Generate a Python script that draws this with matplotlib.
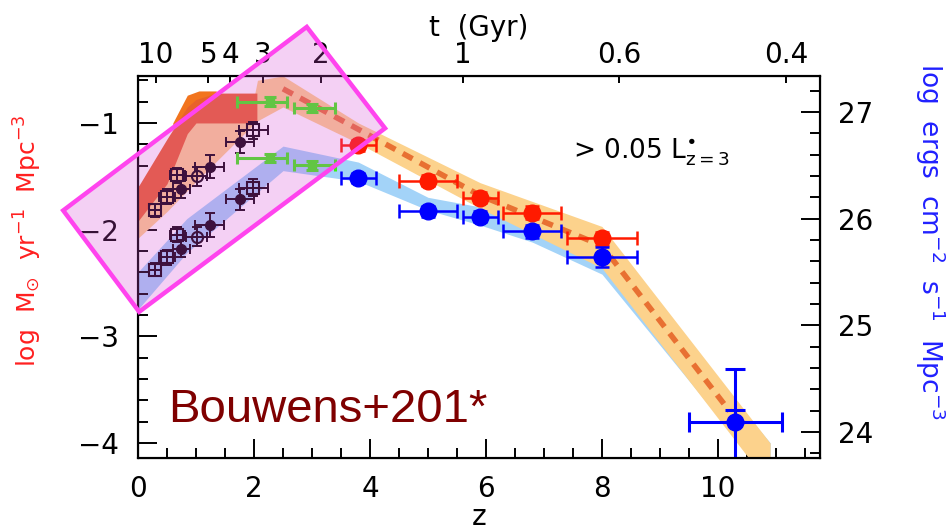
# Cosmic SFR / UV luminosity density vs redshift (Bouwens-style figure)
# with the low-z block highlighted by a rotated pink box.

import matplotlib

matplotlib.use("Agg")
import matplotlib.pyplot as plt
import numpy as np
from matplotlib.patches import Polygon
from matplotlib.ticker import MultipleLocator

plt.rcParams["font.family"] = ["DejaVu Sans"]
plt.rcParams["mathtext.fontset"] = "dejavusans"

# %% data -------------------------------------------------------------------
# left axis: log SFR density (Msun/yr/Mpc^3); right axis: log UV lum. density
LUM_OFFSET = 27.897  # log L_UV = log SFR + offset
SFR_LIM = (-4.14, -0.56)
Z_LIM = (0.0, 11.76)

# cosmology for the top (age) axis
H0 = 70.0
OMEGA_M = 0.3
OMEGA_L = 0.7
t_ticks = [10, 5, 4, 3, 2, 1, 0.6, 0.4]
t_labels = ["10", "5", "4", "3", "2", "1", "0.6", "0.4"]

# dust-corrected SFR band (light orange)
sfr_band_z = [0.0, 0.5, 1.0, 1.5, 2.0, 2.06, 2.5, 3.8, 5.9, 8.0, 10.9]
sfr_band_hi = [-1.60, -1.25, -0.95, -0.85, -0.76, -0.60, -0.56, -1.00, -1.56, -1.97, -4.00]
sfr_band_lo = [-2.08, -1.83, -1.55, -1.28, -1.01, -0.98, -0.85, -1.19, -1.80, -2.36, -4.40]

# central dashed SFR line
sfr_line_z = [2.5, 3.8, 5.9, 8.0, 10.2]
sfr_line = [-0.68, -1.06, -1.68, -2.15, -3.70]

# low-z SFR compilation band (red) + small orange bump on its top
red_band_z = [0.0, 0.5, 0.85, 1.0, 1.35, 2.05]
red_band_hi = [-1.60, -1.15, -0.85, -0.78, -0.72, -0.72]
red_band_lo = [-1.92, -1.57, -1.10, -1.00, -1.00, -1.00]
bump_z = [0.6, 0.85, 1.05, 1.35]
bump_hi = [-1.00, -0.74, -0.70, -0.70]
bump_lo = [-1.05, -0.90, -0.80, -0.74]

# uncorrected UV luminosity density band (light blue), right-axis units
uv_band_z = [0.0, 0.84, 2.5, 3.8, 5.0, 5.9, 6.8, 8.0, 10.9]
uv_band_hi = [25.50, 26.00, 26.68, 26.53, 26.20, 26.11, 25.98, 25.80, 23.90]
uv_band_lo = [25.15, 25.68, 26.45, 26.35, 26.08, 25.94, 25.78, 25.48, 23.55]

# z >= 3.8 dropout samples
hz_z = [3.8, 5.0, 5.9, 6.8, 8.0]
hz_zerr = [0.3, 0.5, 0.3, 0.5, 0.6]
hz_sfr = [-1.21, -1.54, -1.70, -1.84, -2.08]
hz_sfr_err = [0.05, 0.05, 0.05, 0.06, 0.06]
hz_uv = [26.38, 26.07, 26.02, 25.88, 25.64]
hz_uv_err = [0.05, 0.05, 0.05, 0.06, 0.09]

# z ~ 10 candidate
z10_z = [10.3]
z10_zerr = [0.8]
z10_uv = [24.09]
z10_uv_lo = [0.7]
z10_uv_hi = [0.5]
z10_cap = [0.12]

# z ~ 2-3 samples (green)
g_z = [2.28, 3.0]
g_zerr_lo = [0.57, 0.31]
g_zerr_hi = [0.29, 0.40]
g_sfr = [-0.80, -0.86]
g_uv = [26.57, 26.50]
g_err = [0.04, 0.04]

# low-z compilation (black); upper = SFR, lower = UV
lz_z = [0.29, 0.50, 0.68, 0.75, 1.01, 1.24, 1.76, 1.99]
lz_zerr = [0.10, 0.13, 0.13, 0.15, 0.18, 0.25, 0.24, 0.25]
lz_sfr = [-1.82, -1.69, -1.49, -1.62, -1.50, -1.41, -1.18, -1.07]
lz_uv = [25.52, 25.64, 25.85, 25.72, 25.83, 25.94, 26.18, 26.29]
lz_err = [0.06, 0.07, 0.07, 0.08, 0.09, 0.11, 0.10, 0.08]
lz_kind = ["sq", "sq", "sq", "dot", "circ", "dot", "dot", "sq"]

# highlight box corners (z, log SFR)
box_xy = [(2.91, -0.10), (4.26, -1.05), (0.02, -2.77), (-1.29, -1.82)]


def z_of_t(t_gyr):
    t = np.asarray(t_gyr, dtype=float)
    a = 2.0 / (3.0 * np.sqrt(OMEGA_L)) * (977.8 / H0)
    x = np.sinh(t / a) / np.sqrt(OMEGA_L / OMEGA_M)
    return x ** (-2.0 / 3.0) - 1.0


# %% figure -----------------------------------------------------------------
fig = plt.figure(figsize=(9.51, 5.31), dpi=100)
ax = fig.add_axes([138 / 951, 1 - 458 / 531, (820 - 138) / 951, (458 - 76) / 531])
ax.set_autoscale_on(False)
ax.set_xlim(*Z_LIM)
ax.set_ylim(*SFR_LIM)

ax2 = ax.twinx()
ax2.set_ylim(SFR_LIM[0] + LUM_OFFSET, SFR_LIM[1] + LUM_OFFSET)
uv = ax2.transData  # right-axis units, drawn inside ax for layering

ORANGE = "#fcd28c"
BLUE_BAND = "#a3d3f8"
RED = "#ff1a00"
BLUE = "#0000ff"
GREEN = "#3cf014"
DARK = "#0a000a"

ax.fill_between(uv_band_z, uv_band_lo, uv_band_hi, color=BLUE_BAND, lw=0,
                transform=uv, zorder=1)
ax.fill_between(sfr_band_z, sfr_band_lo, sfr_band_hi, color=ORANGE, lw=0, zorder=2)
ax.fill_between(bump_z, bump_lo, bump_hi, color="#f2741e", lw=0, zorder=2.5)
ax.fill_between(red_band_z, red_band_lo, red_band_hi, color="#e8622a", lw=0, zorder=3)
ax.plot(sfr_line_z, sfr_line, color="#e87032", lw=4, linestyle=(0, (2.0, 1.5)),
        dash_capstyle="butt", zorder=4)

# low-z black points
eb_kw = dict(fmt="none", ecolor=DARK, elinewidth=1.4, capsize=3.5, capthick=1.4, zorder=5)
ax.errorbar(lz_z, lz_sfr, xerr=lz_zerr, yerr=lz_err, **eb_kw)
ax.errorbar(lz_z, lz_uv, xerr=lz_zerr, yerr=lz_err, transform=uv, **eb_kw)
for zz, ys, yu, kind in zip(lz_z, lz_sfr, lz_uv, lz_kind):
    for yy, tr in ((ys, ax.transData), (yu, uv)):
        if kind == "dot":
            ax.plot([zz], [yy], "o", ms=7, color=DARK, transform=tr, zorder=6)
        elif kind == "sq":
            ax.plot([zz], [yy], "s", ms=8, mfc="none", mec=DARK, mew=1.5,
                    transform=tr, zorder=6)
            ax.plot([zz], [yy], "+", ms=8, mec=DARK, mew=1.2, transform=tr, zorder=6)
        else:
            ax.plot([zz], [yy], "o", ms=8, mfc="none", mec=DARK, mew=1.5,
                    transform=tr, zorder=6)
            ax.plot([zz], [yy], "_", ms=8, mec=DARK, mew=1.2, transform=tr, zorder=6)

# green z~2-3 points
g_kw = dict(fmt="s", ms=6, color=GREEN, ecolor=GREEN, elinewidth=2.2, capsize=4.5,
            capthick=2.2, zorder=6)
ax.errorbar(g_z, g_sfr, xerr=[g_zerr_lo, g_zerr_hi], yerr=g_err, **g_kw)
ax.errorbar(g_z, g_uv, xerr=[g_zerr_lo, g_zerr_hi], yerr=g_err, transform=uv, **g_kw)

# high-z red (SFR) and blue (UV) points
ax.errorbar(hz_z, hz_sfr, xerr=hz_zerr, yerr=hz_sfr_err, fmt="o", ms=12, color=RED,
            ecolor=RED, elinewidth=1.8, capsize=5, capthick=1.8, zorder=7)
ax.errorbar(hz_z, hz_uv, xerr=hz_zerr, yerr=hz_uv_err, fmt="o", ms=12, color=BLUE,
            ecolor=BLUE, elinewidth=1.8, capsize=5, capthick=1.8, transform=uv, zorder=8)
ax.errorbar(z10_z, z10_uv, xerr=z10_zerr, yerr=[z10_uv_lo, z10_uv_hi], fmt="o", ms=12,
            color=BLUE, ecolor=BLUE, elinewidth=2.2, capsize=7, capthick=2.2,
            transform=uv, zorder=8)
ax.errorbar(z10_z, z10_uv, yerr=[[0], z10_cap], fmt="none", ecolor=BLUE,
            elinewidth=2.2, capsize=7, capthick=2.2, transform=uv, zorder=8)

# texts
ax.text(7.5, -1.33, "> 0.05 $\\mathrm{L}^{\\bullet}_{\\mathrm{z=3}}$", fontsize=19,
        color="black", va="baseline", zorder=9)
ax.text(0.52, -3.80, "Bouwens+201*", fontsize=34, color="#7f0000",
        family=["Liberation Sans", "DejaVu Sans"], va="baseline", zorder=9)

# %% axes styling ------------------------------------------------------------
for a in (ax, ax2):
    for sp in a.spines.values():
        sp.set_linewidth(1.5)

ax.xaxis.set_major_locator(MultipleLocator(2))
ax.xaxis.set_minor_locator(MultipleLocator(0.5))
ax.yaxis.set_major_locator(MultipleLocator(1))
ax.yaxis.set_minor_locator(MultipleLocator(0.2))
ax2.yaxis.set_major_locator(MultipleLocator(1))
ax2.yaxis.set_minor_locator(MultipleLocator(0.2))

ax.tick_params(which="both", direction="in", top=False, right=False, width=1.4,
               labelsize=20)
ax.tick_params(which="major", length=14)
ax.tick_params(which="minor", length=7)
ax.tick_params(axis="x", pad=12)
ax.tick_params(axis="y", pad=14)
ax2.tick_params(which="both", direction="in", width=1.4, labelsize=20, pad=13)
ax2.tick_params(which="major", length=14)
ax2.tick_params(which="minor", length=7)

top = ax.twiny()
top.set_xlim(*Z_LIM)
top.set_xticks(z_of_t(t_ticks))
top.set_xticklabels(t_labels)
top.tick_params(direction="in", length=5, width=1.4, labelsize=20, pad=5)
top.set_xlabel("t  (Gyr)", fontsize=20, labelpad=4)

ax.set_xlabel("z", fontsize=20, labelpad=0)
fig.text(28 / 951, 1 - 241 / 531, "log  M$_{\\odot}$  yr$^{-1}$  Mpc$^{-3}$",
         rotation=90, ha="center", va="center", fontsize=18, color="#ff2020")
fig.text(930 / 951, 1 - 242 / 531,
         "log  ergs  cm$^{-2}$  s$^{-1}$  Mpc$^{-3}$",
         rotation=270, ha="center", va="center", fontsize=19, color="#2020ff")

# highlight box, drawn over everything
box = Polygon(box_xy, closed=True, transform=ax.transData,
              facecolor=(0.84, 0.27, 0.84, 0.25), edgecolor="#ff44ee", linewidth=3.2,
              joinstyle="miter", clip_on=False, zorder=10)
fig.add_artist(box)

fig.savefig("out.png", dpi=100)
